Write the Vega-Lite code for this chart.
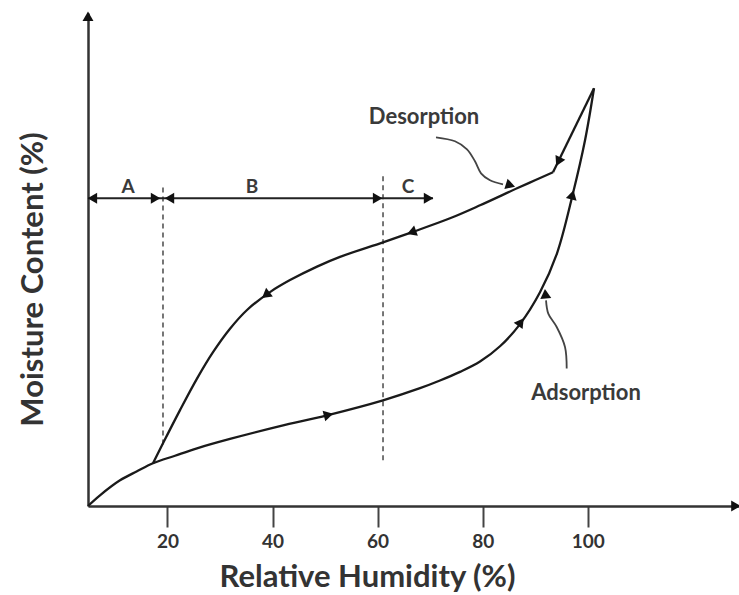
{
  "$schema": "https://vega.github.io/schema/vega-lite/v6.json",
  "width": 651,
  "height": 493,
  "autosize": {"type": "none"},
  "padding": {"left": 88, "top": 13, "right": 0, "bottom": 89},
  "background": "white",
  "config": {"view": {"stroke": null}, "font": "Lato"},
  "datasets": {
    "curves": [
      {"seg": "adsorption", "ord": 1, "rh": 4.89, "mc": 0},
      {"seg": "adsorption", "ord": 2, "rh": 7.17, "mc": 2.17},
      {"seg": "adsorption", "ord": 3, "rh": 10.98, "mc": 5.21},
      {"seg": "adsorption", "ord": 4, "rh": 14.22, "mc": 7.04},
      {"seg": "adsorption", "ord": 5, "rh": 17.26, "mc": 8.66},
      {"seg": "adsorption", "ord": 6, "rh": 21.45, "mc": 10.2},
      {"seg": "adsorption", "ord": 7, "rh": 25.63, "mc": 11.7},
      {"seg": "adsorption", "ord": 8, "rh": 31.91, "mc": 13.6},
      {"seg": "adsorption", "ord": 9, "rh": 41.43, "mc": 16.2},
      {"seg": "adsorption", "ord": 10, "rh": 50.37, "mc": 18.4},
      {"seg": "adsorption", "ord": 11, "rh": 61.03, "mc": 21.44},
      {"seg": "adsorption", "ord": 12, "rh": 68.07, "mc": 23.9},
      {"seg": "adsorption", "ord": 13, "rh": 71.87, "mc": 25.45},
      {"seg": "adsorption", "ord": 14, "rh": 75.68, "mc": 27.2},
      {"seg": "adsorption", "ord": 15, "rh": 79.49, "mc": 29.3},
      {"seg": "adsorption", "ord": 16, "rh": 83.29, "mc": 32.4},
      {"seg": "adsorption", "ord": 17, "rh": 87.1, "mc": 36.9},
      {"seg": "adsorption", "ord": 18, "rh": 90.9, "mc": 43.34},
      {"seg": "adsorption", "ord": 19, "rh": 94.14, "mc": 51.26},
      {"seg": "adsorption", "ord": 20, "rh": 97.18, "mc": 63.43},
      {"seg": "adsorption", "ord": 21, "rh": 99.47, "mc": 74.18},
      {"seg": "adsorption", "ord": 22, "rh": 101.18, "mc": 84.73},
      {"seg": "desorption_top", "ord": 1, "rh": 101.18, "mc": 84.73},
      {"seg": "desorption_top", "ord": 2, "rh": 93.38, "mc": 67.69},
      {"seg": "desorption", "ord": 1, "rh": 93.38, "mc": 67.69},
      {"seg": "desorption", "ord": 2, "rh": 89.95, "mc": 66.06},
      {"seg": "desorption", "ord": 3, "rh": 86.53, "mc": 64.44},
      {"seg": "desorption", "ord": 4, "rh": 79.49, "mc": 60.99},
      {"seg": "desorption", "ord": 5, "rh": 73.78, "mc": 58.36},
      {"seg": "desorption", "ord": 6, "rh": 66.74, "mc": 55.62},
      {"seg": "desorption", "ord": 7, "rh": 61.03, "mc": 53.49},
      {"seg": "desorption", "ord": 8, "rh": 52.84, "mc": 50.53},
      {"seg": "desorption", "ord": 9, "rh": 48.47, "mc": 48.56},
      {"seg": "desorption", "ord": 10, "rh": 43.33, "mc": 45.82},
      {"seg": "desorption", "ord": 11, "rh": 39.52, "mc": 43.39},
      {"seg": "desorption", "ord": 12, "rh": 35.15, "mc": 39.76},
      {"seg": "desorption", "ord": 13, "rh": 31.91, "mc": 35.96},
      {"seg": "desorption", "ord": 14, "rh": 28.68, "mc": 31.2},
      {"seg": "desorption", "ord": 15, "rh": 25.63, "mc": 25.84},
      {"seg": "desorption", "ord": 16, "rh": 22.4, "mc": 19.45},
      {"seg": "desorption", "ord": 17, "rh": 19.16, "mc": 12.72},
      {"seg": "desorption", "ord": 18, "rh": 17.26, "mc": 8.66}
    ],
    "pointers": [
      {"seg": "des", "ord": 1, "rh": 71.11, "mc": 74.79},
      {"seg": "des", "ord": 2, "rh": 74.73, "mc": 73.98},
      {"seg": "des", "ord": 3, "rh": 77.01, "mc": 72.35},
      {"seg": "des", "ord": 4, "rh": 78.53, "mc": 69.92},
      {"seg": "des", "ord": 5, "rh": 79.68, "mc": 67.48},
      {"seg": "des", "ord": 6, "rh": 81.39, "mc": 66.06},
      {"seg": "des", "ord": 7, "rh": 83.86, "mc": 65.25},
      {"seg": "ads", "ord": 1, "rh": 95.98, "mc": 27.87},
      {"seg": "ads", "ord": 2, "rh": 95.66, "mc": 32.25},
      {"seg": "ads", "ord": 3, "rh": 94.08, "mc": 36.31},
      {"seg": "ads", "ord": 4, "rh": 92.48, "mc": 39.03},
      {"seg": "ads", "ord": 5, "rh": 92.05, "mc": 41.72}
    ],
    "arrows": [
      {"rh": 94.52, "mc": 70.12, "ang": 206, "kind": "curve"},
      {"rh": 66.74, "mc": 55.62, "ang": 250, "kind": "curve"},
      {"rh": 38.95, "mc": 43.0, "ang": 232, "kind": "curve"},
      {"rh": 50.37, "mc": 18.4, "ang": 76, "kind": "curve"},
      {"rh": 87.1, "mc": 37.06, "ang": 36, "kind": "curve"},
      {"rh": 96.99, "mc": 62.82, "ang": 14, "kind": "curve"},
      {"rh": 85.0, "mc": 65.15, "ang": 107, "kind": "pointer"},
      {"rh": 91.95, "mc": 42.74, "ang": 355, "kind": "pointer"},
      {"rh": 6.03, "mc": 62.41, "ang": 270, "kind": "range"},
      {"rh": 17.45, "mc": 62.41, "ang": 90, "kind": "range"},
      {"rh": 20.69, "mc": 62.41, "ang": 270, "kind": "range"},
      {"rh": 59.7, "mc": 62.41, "ang": 90, "kind": "range"},
      {"rh": 69.4, "mc": 62.41, "ang": 90, "kind": "range"},
      {"rh": 4.89, "mc": 99.0, "ang": 0, "kind": "axis"},
      {"rh": 127.88, "mc": 0, "ang": 90, "kind": "axis"}
    ],
    "dashes": [
      {"rh": 19.16, "mc": 12.5, "mc2": 65.1},
      {"rh": 61.03, "mc": 9.3, "mc2": 67.7}
    ],
    "ranges": [
      {"rh": 4.89, "rh2": 70.54, "mc": 62.41}
    ],
    "labels": [
      {"rh": 12.5, "mc": 64.65, "txt": "A", "kind": "range"},
      {"rh": 36.1, "mc": 64.65, "txt": "B", "kind": "range"},
      {"rh": 65.78, "mc": 64.65, "txt": "C", "kind": "range"},
      {"rh": 68.83, "mc": 78.84, "txt": "Desorption", "kind": "name"},
      {"rh": 99.66, "mc": 22.86, "txt": "Adsorption", "kind": "name"}
    ]
  },
  "encoding": {
    "x": {
      "field": "rh",
      "type": "quantitative",
      "scale": {"domain": [4.89, 128.77], "nice": false, "zero": false},
      "axis": {
        "title": "Relative Humidity (%)",
        "values": [20, 40, 60, 80, 100],
        "grid": false,
        "domainColor": "#333333",
        "domainWidth": 2.5,
        "tickColor": "#444444",
        "tickWidth": 2,
        "tickSize": 21,
        "labelFont": "Lato",
        "labelFontWeight": "bold",
        "labelFontSize": 19,
        "labelColor": "#333333",
        "labelPadding": 5,
        "titleFont": "Lato",
        "titleFontSize": 31,
        "titleFontWeight": "bold",
        "titleColor": "#333333",
        "titleX": 279,
        "titleY": 80,
        "titleBaseline": "alphabetic",
        "titleAlign": "center"
      }
    },
    "y": {
      "field": "mc",
      "type": "quantitative",
      "scale": {"domain": [0, 100], "nice": false},
      "axis": {
        "title": "Moisture Content (%)",
        "ticks": false,
        "labels": false,
        "grid": false,
        "domainColor": "#333333",
        "domainWidth": 2.5,
        "titleFont": "Lato",
        "titleFontSize": 31,
        "titleFontWeight": "bold",
        "titleColor": "#333333",
        "titleX": -46,
        "titleY": 266,
        "titleAngle": 270,
        "titleBaseline": "alphabetic",
        "titleAlign": "center"
      }
    }
  },
  "layer": [
    {
      "data": {"name": "dashes"},
      "mark": {"type": "rule", "strokeDash": [5, 4], "strokeWidth": 1.6, "color": "#555555"},
      "encoding": {"y2": {"field": "mc2"}}
    },
    {
      "data": {"name": "ranges"},
      "mark": {"type": "rule", "strokeWidth": 2, "color": "#222222"},
      "encoding": {"x2": {"field": "rh2"}}
    },
    {
      "data": {"name": "curves"},
      "mark": {"type": "line", "interpolate": "catmull-rom", "strokeWidth": 2.3, "color": "#1a1a1a"},
      "encoding": {
        "detail": {"field": "seg"},
        "order": {"field": "ord", "type": "quantitative"}
      }
    },
    {
      "data": {"name": "pointers"},
      "mark": {"type": "line", "interpolate": "catmull-rom", "strokeWidth": 1.8, "color": "#444444"},
      "encoding": {
        "detail": {"field": "seg"},
        "order": {"field": "ord", "type": "quantitative"}
      }
    },
    {
      "data": {"name": "arrows"},
      "mark": {"type": "point", "shape": "triangle", "filled": true, "opacity": 1, "color": "#111111", "size": 120},
      "encoding": {
        "angle": {"field": "ang", "type": "quantitative", "scale": null}
      }
    },
    {
      "data": {"name": "labels"},
      "mark": {"type": "text", "font": "Lato", "fontWeight": "bold", "color": "#3a3a3a", "align": "center", "baseline": "middle"},
      "encoding": {
        "text": {"field": "txt"},
        "size": {
          "condition": {"test": "datum.kind === 'name'", "value": 22},
          "value": 19
        }
      }
    }
  ]
}
